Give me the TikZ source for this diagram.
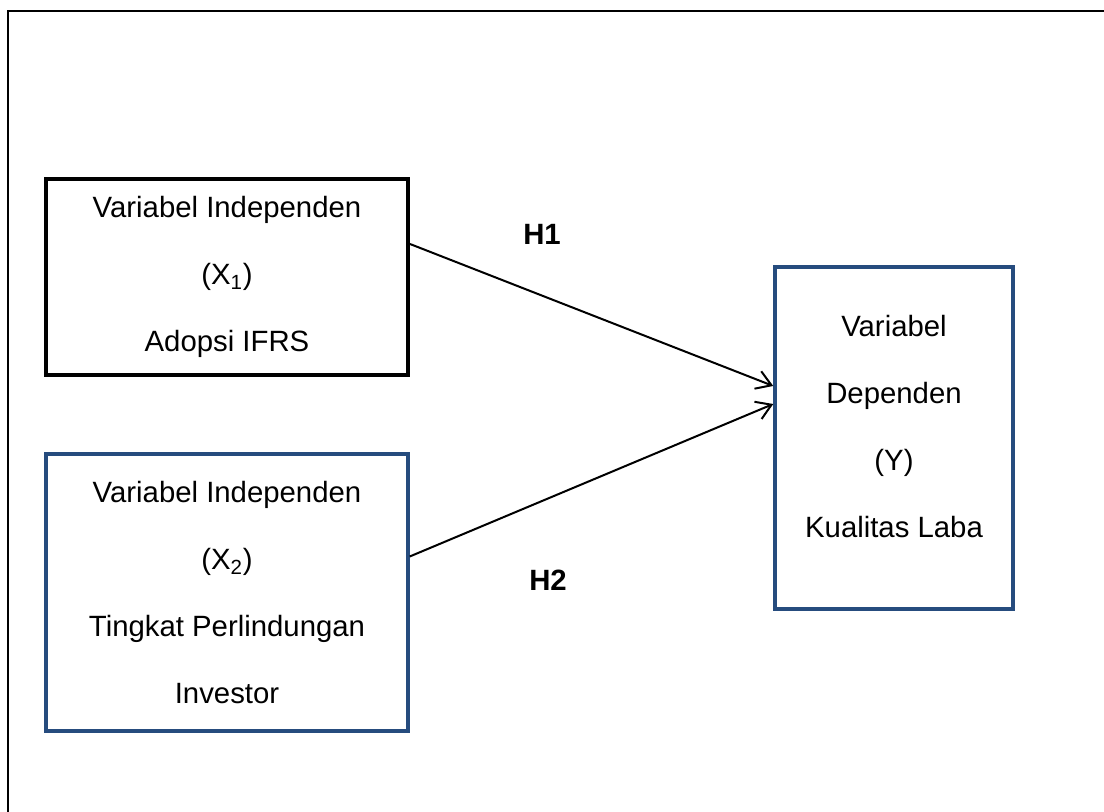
\documentclass[tikz,border=0pt]{standalone}
\usepackage{fontspec}
\setmainfont{Liberation Sans}
\usetikzlibrary{arrows.meta,positioning}
\definecolor{boxblue}{RGB}{38,76,126}
\begin{document}
\begin{tikzpicture}[x=0.75pt,y=-0.75pt]
	% styles
	\tikzstyle{vartext} = [font=\fontsize{22}{50.25}\selectfont,align=center,inner sep=0pt]
	\tikzstyle{indep} = [vartext,draw=black,line width=3pt,minimum width=271.5pt,minimum height=147pt]
	\tikzstyle{bluebox} = [vartext,draw=boxblue,line width=2.6pt]
	\tikzstyle{hyp} = [font=\fontsize{22}{26}\selectfont\bfseries,inner sep=0pt]
	\tikzstyle{link} = [line width=1.5pt,-{Straight Barb[length=11pt,width=14pt,line width=1.5pt]}]

	% bounding box
	\useasboundingbox (0,0) rectangle (1104,812);
	\draw[line width=1.5pt] (1104,11) -- (8,11) -- (8,812);

	% variables
	\node[indep] (x1) at (227,277) {Variabel Independen\\(X\textsubscript{1})\\Adopsi IFRS};
	\node[bluebox,minimum width=271.5pt,minimum height=207.75pt] (x2) at (227,592.5)
		{Variabel Independen\\(X\textsubscript{2})\\Tingkat Perlindungan\\Investor};
	\node[bluebox,minimum width=178.5pt,minimum height=256.5pt] (y) at (894,438)
		{Variabel\\Dependen\\(Y)\\Kualitas Laba\rule[-17pt]{0pt}{0pt}};

	% hypotheses
	\node[hyp] (h1) at (542,234) {H1};
	\node[hyp] (h2) at (548,580) {H2};

	% links
	\draw[link] ([yshift=0.75*33pt]x1.east) -- ([yshift=0.75*52pt]y.west);
	\draw[link] ([yshift=0.75*36pt]x2.east) -- ([yshift=0.75*34pt]y.west);
\end{tikzpicture}
\end{document}
